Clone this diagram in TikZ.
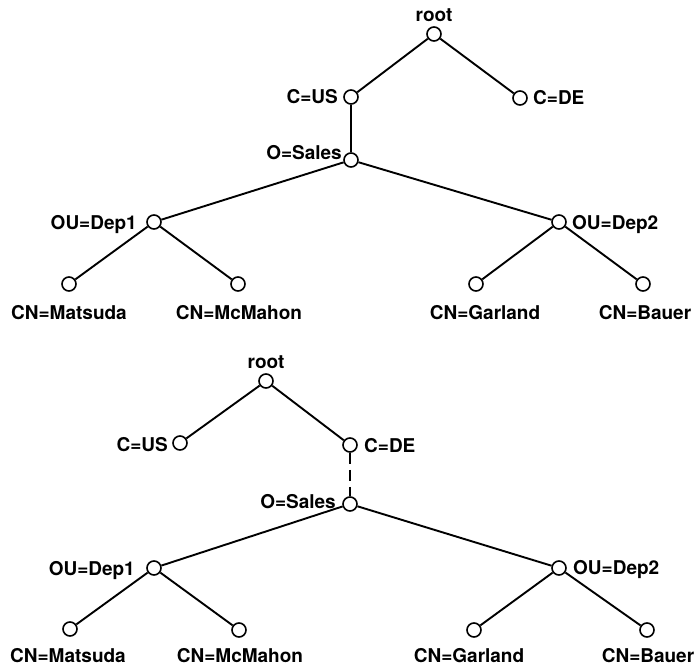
\documentclass[tikz,border=0pt]{standalone}
\usepackage{fontspec}
\setmainfont{TeX Gyre Heros}
\begin{document}
\begin{tikzpicture}[x=1pt,y=-1pt,
  entry/.style={circle,draw,line width=1.6pt,minimum size=14pt,inner sep=0pt,fill=white},
  edge/.style={line width=1.9pt},
  link/.style={line width=1.9pt,dash pattern=on 11pt off 6pt},
  tag/.style={font=\fontsize{19}{22}\selectfont\bfseries,inner sep=0pt}]
\useasboundingbox (0,0) rectangle (696,666);

% ---------- upper tree: O=Sales under C=US ----------
\node[entry] (r1)  at (434,34)  {};
\node[entry] (us1) at (351,97)  {};
\node[entry] (de1) at (520,98)  {};
\node[entry] (sa1) at (351,160) {};
\node[entry] (da1) at (154,222) {};
\node[entry] (db1) at (559,222) {};
\node[entry] (ma1) at (69,284)  {};
\node[entry] (mc1) at (238,284) {};
\node[entry] (ga1) at (476,284) {};
\node[entry] (ba1) at (643,284) {};

\draw[edge] (r1) -- (us1);
\draw[edge] (r1) -- (de1);
\draw[edge] (us1) -- (sa1);
\draw[edge] (sa1) -- (da1);
\draw[edge] (sa1) -- (db1);
\draw[edge] (da1) -- (ma1);
\draw[edge] (da1) -- (mc1);
\draw[edge] (db1) -- (ga1);
\draw[edge] (db1) -- (ba1);

\node[tag,anchor=base]      (tr1)  at (434,22)  {root};
\node[tag,anchor=base east] (tus1) at (338,104) {C=US};
\node[tag,anchor=base west] (tde1) at (533,105) {C=DE};
\node[tag,anchor=base east] (tsa1) at (342,160) {O=Sales};
\node[tag,anchor=base east] (tda1) at (137,229) {OU=Dep1};
\node[tag,anchor=base west] (tdb1) at (572,229) {OU=Dep2};
\node[tag,anchor=base] (tma1) at (69,319)  {CN=Matsuda};
\node[tag,anchor=base] (tmc1) at (239,319) {CN=McMahon};
\node[tag,anchor=base] (tga1) at (485,319) {CN=Garland};
\node[tag,anchor=base] (tba1) at (645,319) {CN=Bauer};

% ---------- lower tree: O=Sales moved under C=DE ----------
\node[entry] (r2)  at (266,381) {};
\node[entry] (us2) at (180,443) {};
\node[entry] (de2) at (350,445) {};
\node[entry] (sa2) at (350,504) {};
\node[entry] (da2) at (154,568) {};
\node[entry] (db2) at (559,568) {};
\node[entry] (ma2) at (70,629)  {};
\node[entry] (mc2) at (239,630) {};
\node[entry] (ga2) at (474,630) {};
\node[entry] (ba2) at (647,630) {};

\draw[edge] (r2) -- (us2);
\draw[edge] (r2) -- (de2);
\draw[link] (de2) -- (sa2);
\draw[edge] (sa2) -- (da2);
\draw[edge] (sa2) -- (db2);
\draw[edge] (da2) -- (ma2);
\draw[edge] (da2) -- (mc2);
\draw[edge] (db2) -- (ga2);
\draw[edge] (db2) -- (ba2);

\node[tag,anchor=base]      (tr2)  at (266,368) {root};
\node[tag,anchor=base east] (tus2) at (168,451) {C=US};
\node[tag,anchor=base west] (tde2) at (364,452) {C=DE};
\node[tag,anchor=base east] (tsa2) at (336,508) {O=Sales};
\node[tag,anchor=base east] (tda2) at (135,575) {OU=Dep1};
\node[tag,anchor=base west] (tdb2) at (573,574) {OU=Dep2};
\node[tag,anchor=base] (tma2) at (68,662)  {CN=Matsuda};
\node[tag,anchor=base] (tmc2) at (240,662) {CN=McMahon};
\node[tag,anchor=base] (tga2) at (469,662) {CN=Garland};
\node[tag,anchor=base] (tba2) at (648,662) {CN=Bauer};
\end{tikzpicture}
\end{document}
